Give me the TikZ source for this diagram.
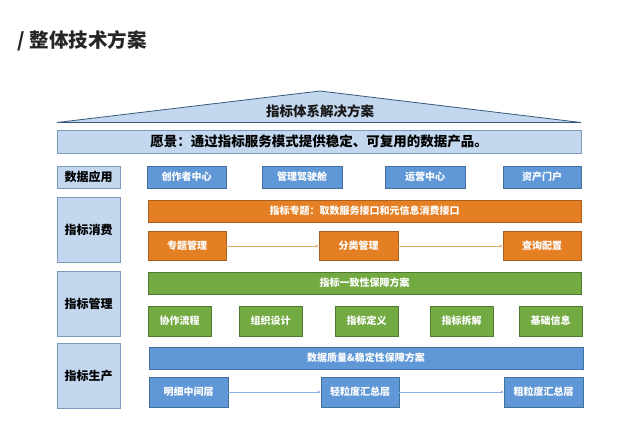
\documentclass[tikz,border=0pt]{standalone}
\usepackage{fontspec}
\setmainfont{Noto Sans CJK SC}
\usetikzlibrary{arrows.meta}
\definecolor{lightfill}{HTML}{C3D7EF}
\definecolor{lightedge}{HTML}{7D9BBE}
\definecolor{bluefill}{HTML}{5F97D7}
\definecolor{blueedge}{HTML}{41719C}
\definecolor{orangefill}{HTML}{E47F24}
\definecolor{orangeedge}{HTML}{A9601F}
\definecolor{greenfill}{HTML}{73AA42}
\definecolor{greenedge}{HTML}{4F7A31}
\definecolor{orangearrow}{HTML}{EDA86A}
\definecolor{bluearrow}{HTML}{86AEE0}
\tikzset{
  base/.style={rectangle, inner sep=0pt, line width=0.8pt, align=center},
  labelbox/.style={base, draw=lightedge, fill=lightfill, text=black, font=\fontsize{12}{14}\selectfont\bfseries, minimum width=63pt},
  bluebox/.style={base, draw=blueedge, fill=bluefill, text=white, font=\fontsize{10}{12}\selectfont\bfseries},
  orangebox/.style={base, draw=orangeedge, fill=orangefill, text=white, font=\fontsize{10}{12}\selectfont\bfseries},
  greenbox/.style={base, draw=greenedge, fill=greenfill, text=white, font=\fontsize{10}{12}\selectfont\bfseries},
  oarrow/.style={draw=orangearrow, line width=0.8pt, -{Stealth[length=3pt,width=3pt]}},
  barrow/.style={draw=bluearrow, line width=0.8pt, -{Stealth[length=3pt,width=3pt]}},
}
\begin{document}
\begin{tikzpicture}[x=1pt,y=-1pt]
\useasboundingbox (0,0) rectangle (627,438);
% title
\node[anchor=west, inner sep=0pt, text=black!85, font=\fontsize{19.5}{22}\selectfont\bfseries] (title) at (17,40.5) {/\hspace{5pt}整体技术方案};
% roof
\draw[draw=blueedge!80!black, fill=lightfill, line width=0.8pt] (57,122.5) -- (320,91) -- (581,122.5) -- cycle;
\node[inner sep=0pt, text=black!90, font=\fontsize{13.5}{16}\selectfont\bfseries] (roof) at (320,111) {指标体系解决方案};
% vision
\node[base, draw=lightedge, fill=lightfill, minimum width=524pt, minimum height=23pt, font=\fontsize{13.5}{16}\selectfont\bfseries] (vision) at (319,141.5) {愿景：通过指标服务模式提供稳定、可复用的数据产品。};
% left labels
\node[labelbox, minimum height=22pt] (l1) at (88.5,177) {数据应用};
\node[labelbox, minimum height=65pt] (l2) at (88.5,229.5) {指标消费};
\node[labelbox, minimum height=65pt] (l3) at (88.5,303.5) {指标管理};
\node[labelbox, minimum height=65pt] (l4) at (88.5,375.5) {指标生产};
% data application
\node[bluebox, minimum width=79pt, minimum height=22pt] (a1) at (186.5,177) {创作者中心};
\node[bluebox, minimum width=80pt, minimum height=22pt] (a2) at (302,177) {管理驾驶舱};
\node[bluebox, minimum width=80pt, minimum height=22pt] (a3) at (425,177) {运营中心};
\node[bluebox, minimum width=78pt, minimum height=22pt] (a4) at (542,177) {资产门户};
% consumption
\node[orangebox, minimum width=433pt, minimum height=22pt] (obar) at (364.5,211) {指标专题：取数服务接口和元信息消费接口};
\node[orangebox, minimum width=78pt, minimum height=29.5pt] (o1) at (187,246) {专题管理};
\node[orangebox, minimum width=79pt, minimum height=29.5pt] (o2) at (358.5,246) {分类管理};
\node[orangebox, minimum width=78pt, minimum height=29.5pt] (o3) at (542,246) {查询配置};
\draw[oarrow] (o1) -- (o2);
\draw[oarrow] (o2) -- (o3);
% management
\node[greenbox, minimum width=433pt, minimum height=22pt] (gbar) at (364.5,283) {指标一致性保障方案};
\node[greenbox, minimum width=63pt, minimum height=30pt] (g1) at (179.5,321) {协作流程};
\node[greenbox, minimum width=63pt, minimum height=30pt] (g2) at (270.5,321) {组织设计};
\node[greenbox, minimum width=63pt, minimum height=30pt] (g3) at (366.5,321) {指标定义};
\node[greenbox, minimum width=63pt, minimum height=30pt] (g4) at (461.5,321) {指标拆解};
\node[greenbox, minimum width=63pt, minimum height=30pt] (g5) at (550.5,321) {基础信息};
% production
\node[bluebox, minimum width=434pt, minimum height=22pt] (bbar) at (366,358) {数据质量\&稳定性保障方案};
\node[bluebox, minimum width=79pt, minimum height=30pt] (b1) at (188.5,392) {明细中间层};
\node[bluebox, minimum width=78pt, minimum height=30pt] (b2) at (360,392) {轻粒度汇总层};
\node[bluebox, minimum width=79pt, minimum height=30pt] (b3) at (543.5,392) {粗粒度汇总层};
\draw[barrow] (b1) -- (b2);
\draw[barrow] (b2) -- (b3);
\end{tikzpicture}
\end{document}
